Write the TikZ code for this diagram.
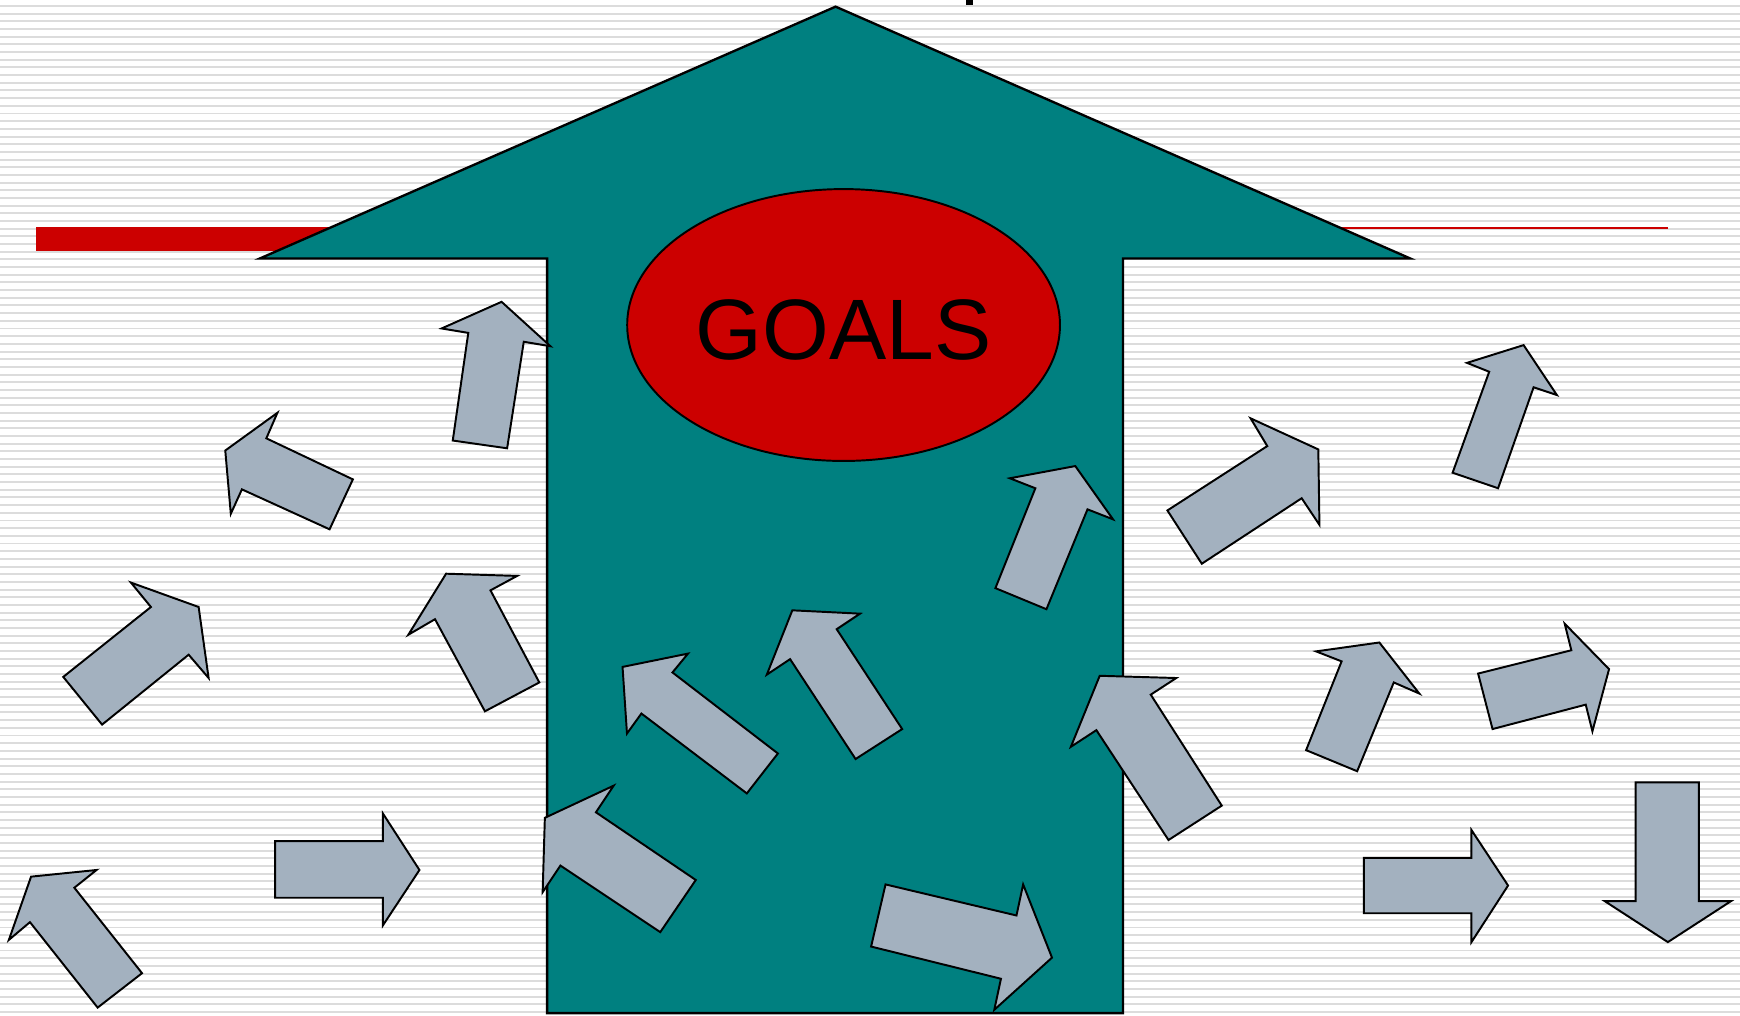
\documentclass[tikz,border=0pt]{standalone}
\usepackage{fontspec}
\setmainfont{Liberation Sans}
\usetikzlibrary{shapes.geometric}
\definecolor{goalteal}{HTML}{008080}
\definecolor{goalred}{HTML}{CC0000}
\definecolor{arrowgray}{HTML}{A3B1BF}
\definecolor{stripegray}{HTML}{DCDCDC}
\begin{document}
\begin{tikzpicture}[x=0.1mm, y=-0.1mm,
    blockarrow/.style={fill=arrowgray, draw=black, line width=0.5pt, line join=miter},
    stripe/.style={draw=stripegray, line width=0.5pt},
    goal/.style={ellipse, draw=black, fill=goalred, line width=0.5pt, inner sep=0pt,
        minimum width=3.9cm, minimum height=2.45cm, text height=6.2mm, text depth=0pt,
        font=\fontsize{22}{26}\selectfont}]
    \useasboundingbox (0,0) rectangle (1568,915);
    \foreach \i in {0,...,131}
        \draw[stripe] (0,5.4+6.92*\i) -- (1568,5.4+6.92*\i);
    \fill[goalred] (32,205) rectangle (320,226);
    \draw[goalred, line width=0.4pt] (1150,205.5) -- (1503,205.5);
    \fill[black] (870.5,0) rectangle (877,4.5);
	\draw[fill=goalteal, line width=0.6pt, line join=miter] (753,6) -- (1271,233) -- (1012,233) -- (1012,913) -- (493,913) -- (493,233) -- (234,233) -- cycle;
    \node[goal] (goals) at (760.2,292.9) {GOALS};
	\draw[blockarrow] (452,272) -- (496,312) -- (472,308) -- (457,404) -- (408,397) -- (422,300) -- (398,296) -- cycle;
	\draw[blockarrow] (203,406) -- (250,372) -- (240,395) -- (318,432) -- (297,477) -- (218,441) -- (208,463) -- cycle;
	\draw[blockarrow] (179,547) -- (188,611) -- (170,590) -- (92,653) -- (57,610) -- (136,547) -- (118,525) -- cycle;
	\draw[blockarrow] (402,517) -- (466,519) -- (442,532) -- (486,615) -- (437,641) -- (392,558) -- (368,572) -- cycle;
	\draw[blockarrow] (28,790) -- (87,784) -- (67,800) -- (128,877) -- (88,908) -- (27,831) -- (8,847) -- cycle;
	\draw[blockarrow] (248,758) -- (345,758) -- (345,733) -- (378,784) -- (345,834) -- (345,809) -- (248,809) -- cycle;
	\draw[blockarrow] (491,737) -- (553,708) -- (537,732) -- (627,793) -- (595,840) -- (505,780) -- (489,804) -- cycle;
	\draw[blockarrow] (561,601) -- (620,589) -- (606,606) -- (701,679) -- (673,715) -- (578,643) -- (565,661) -- cycle;
	\draw[blockarrow] (714,550) -- (775,553) -- (754,567) -- (813,657) -- (771,684) -- (712,594) -- (691,608) -- cycle;
	\draw[blockarrow] (798,797) -- (916,825) -- (922,797) -- (948,863) -- (896,910) -- (902,882) -- (785,853) -- cycle;
	\draw[blockarrow] (969,420) -- (1003,468) -- (980,459) -- (943,549) -- (897,530) -- (933,440) -- (910,431) -- cycle;
	\draw[blockarrow] (991,609) -- (1060,611) -- (1037,626) -- (1101,726) -- (1053,757) -- (988,658) -- (965,673) -- cycle;
	\draw[blockarrow] (1188,405) -- (1189,473) -- (1173,449) -- (1083,508) -- (1052,460) -- (1142,402) -- (1127,377) -- cycle;
	\draw[blockarrow] (1373,311) -- (1403,356) -- (1382,349) -- (1350,440) -- (1309,426) -- (1342,335) -- (1322,327) -- cycle;
	\draw[blockarrow] (1243,579) -- (1279,625) -- (1256,615) -- (1223,695) -- (1177,676) -- (1209,596) -- (1186,587) -- cycle;
	\draw[blockarrow] (1450,603) -- (1435,659) -- (1429,635) -- (1345,657) -- (1332,607) -- (1416,586) -- (1410,562) -- cycle;
	\draw[blockarrow] (1229,773) -- (1326,773) -- (1326,748) -- (1359,798) -- (1326,849) -- (1326,823) -- (1229,823) -- cycle;
	\draw[blockarrow] (1474,705) -- (1531,705) -- (1531,812) -- (1560,812) -- (1503,849) -- (1446,812) -- (1474,812) -- cycle;
\end{tikzpicture}
\end{document}
